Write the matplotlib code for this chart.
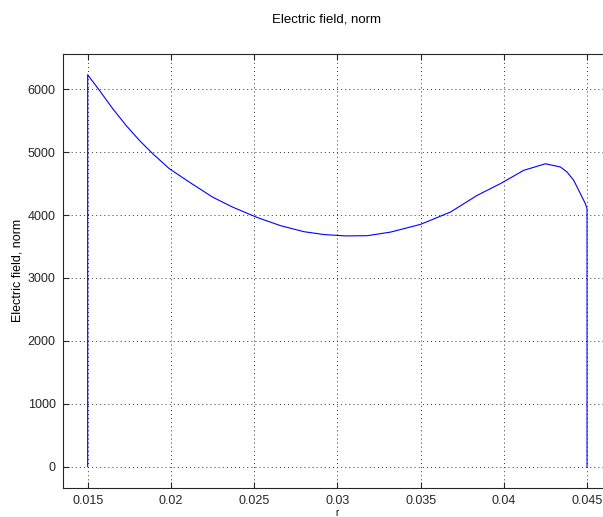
# ── Imports ───────────────────────────────────────────────────────────────────
import matplotlib
matplotlib.use('Agg')
import matplotlib.pyplot as plt

# ── Data ──────────────────────────────────────────────────────────────────────
r = [0.0150, 0.0150, 0.0157, 0.0165, 0.0173, 0.0181, 0.0189, 0.0199, 0.0211,
     0.0225, 0.0237, 0.0252, 0.0266, 0.0280, 0.0292, 0.0305, 0.0318, 0.0332,
     0.0350, 0.0368, 0.0384, 0.0398, 0.0412, 0.0425, 0.0434, 0.0438, 0.0442,
     0.0446, 0.0449, 0.0450, 0.0450]
E = [0, 6230, 5984, 5693, 5427, 5189, 4977, 4738, 4525,
     4286, 4127, 3960, 3830, 3735, 3690, 3668, 3672, 3729,
     3852, 4048, 4313, 4500, 4711, 4815, 4764, 4684, 4552,
     4340, 4181, 4100, 0]

xticks = [0.015, 0.02, 0.025, 0.03, 0.035, 0.04, 0.045]
xtick_labels = ['0.015', '0.02', '0.025', '0.03', '0.035', '0.04', '0.045']
yticks = [0, 1000, 2000, 3000, 4000, 5000, 6000]

# ── Figure / axes (MATLAB-like look) ──────────────────────────────────────────
plt.rcParams['font.family'] = ['Liberation Sans', 'DejaVu Sans']
W, H = 603, 517
fig = plt.figure(figsize=(W / 100, H / 100), dpi=100)
left, right, top, bottom = 62.7, 612, 54, 487.7
ax = fig.add_axes([left / W, 1 - bottom / H, (right - left) / W, (bottom - top) / H])

ax.plot(r, E, color='#0000ff', linewidth=0.8)

ax.set_xlim(0.0135, 0.0465)
ax.set_ylim(-334, 6560)
ax.set_xticks(xticks)
ax.set_xticklabels(xtick_labels)
ax.set_yticks(yticks)

ax.tick_params(direction='in', length=4.5, width=0.8, labelsize=9,
               top=True, right=True, colors='#262626', pad=5)
for sp in ax.spines.values():
    sp.set_color('#262626')
    sp.set_linewidth(0.8)

# sparse dotted grid
ax.grid(True, color='0.2', linewidth=0.7, linestyle=(0, (1, 3.2)))

ax.set_xlabel('r', fontsize=7, labelpad=1)
fig.text(18 / W, 1 - 270 / H, 'Electric field, norm', rotation=90,
         ha='center', va='center', fontsize=9)
fig.text(326 / W, 1 - 20 / H, 'Electric field, norm', ha='center', va='center',
         fontsize=9.5)

plt.savefig('out.png', dpi=100)
